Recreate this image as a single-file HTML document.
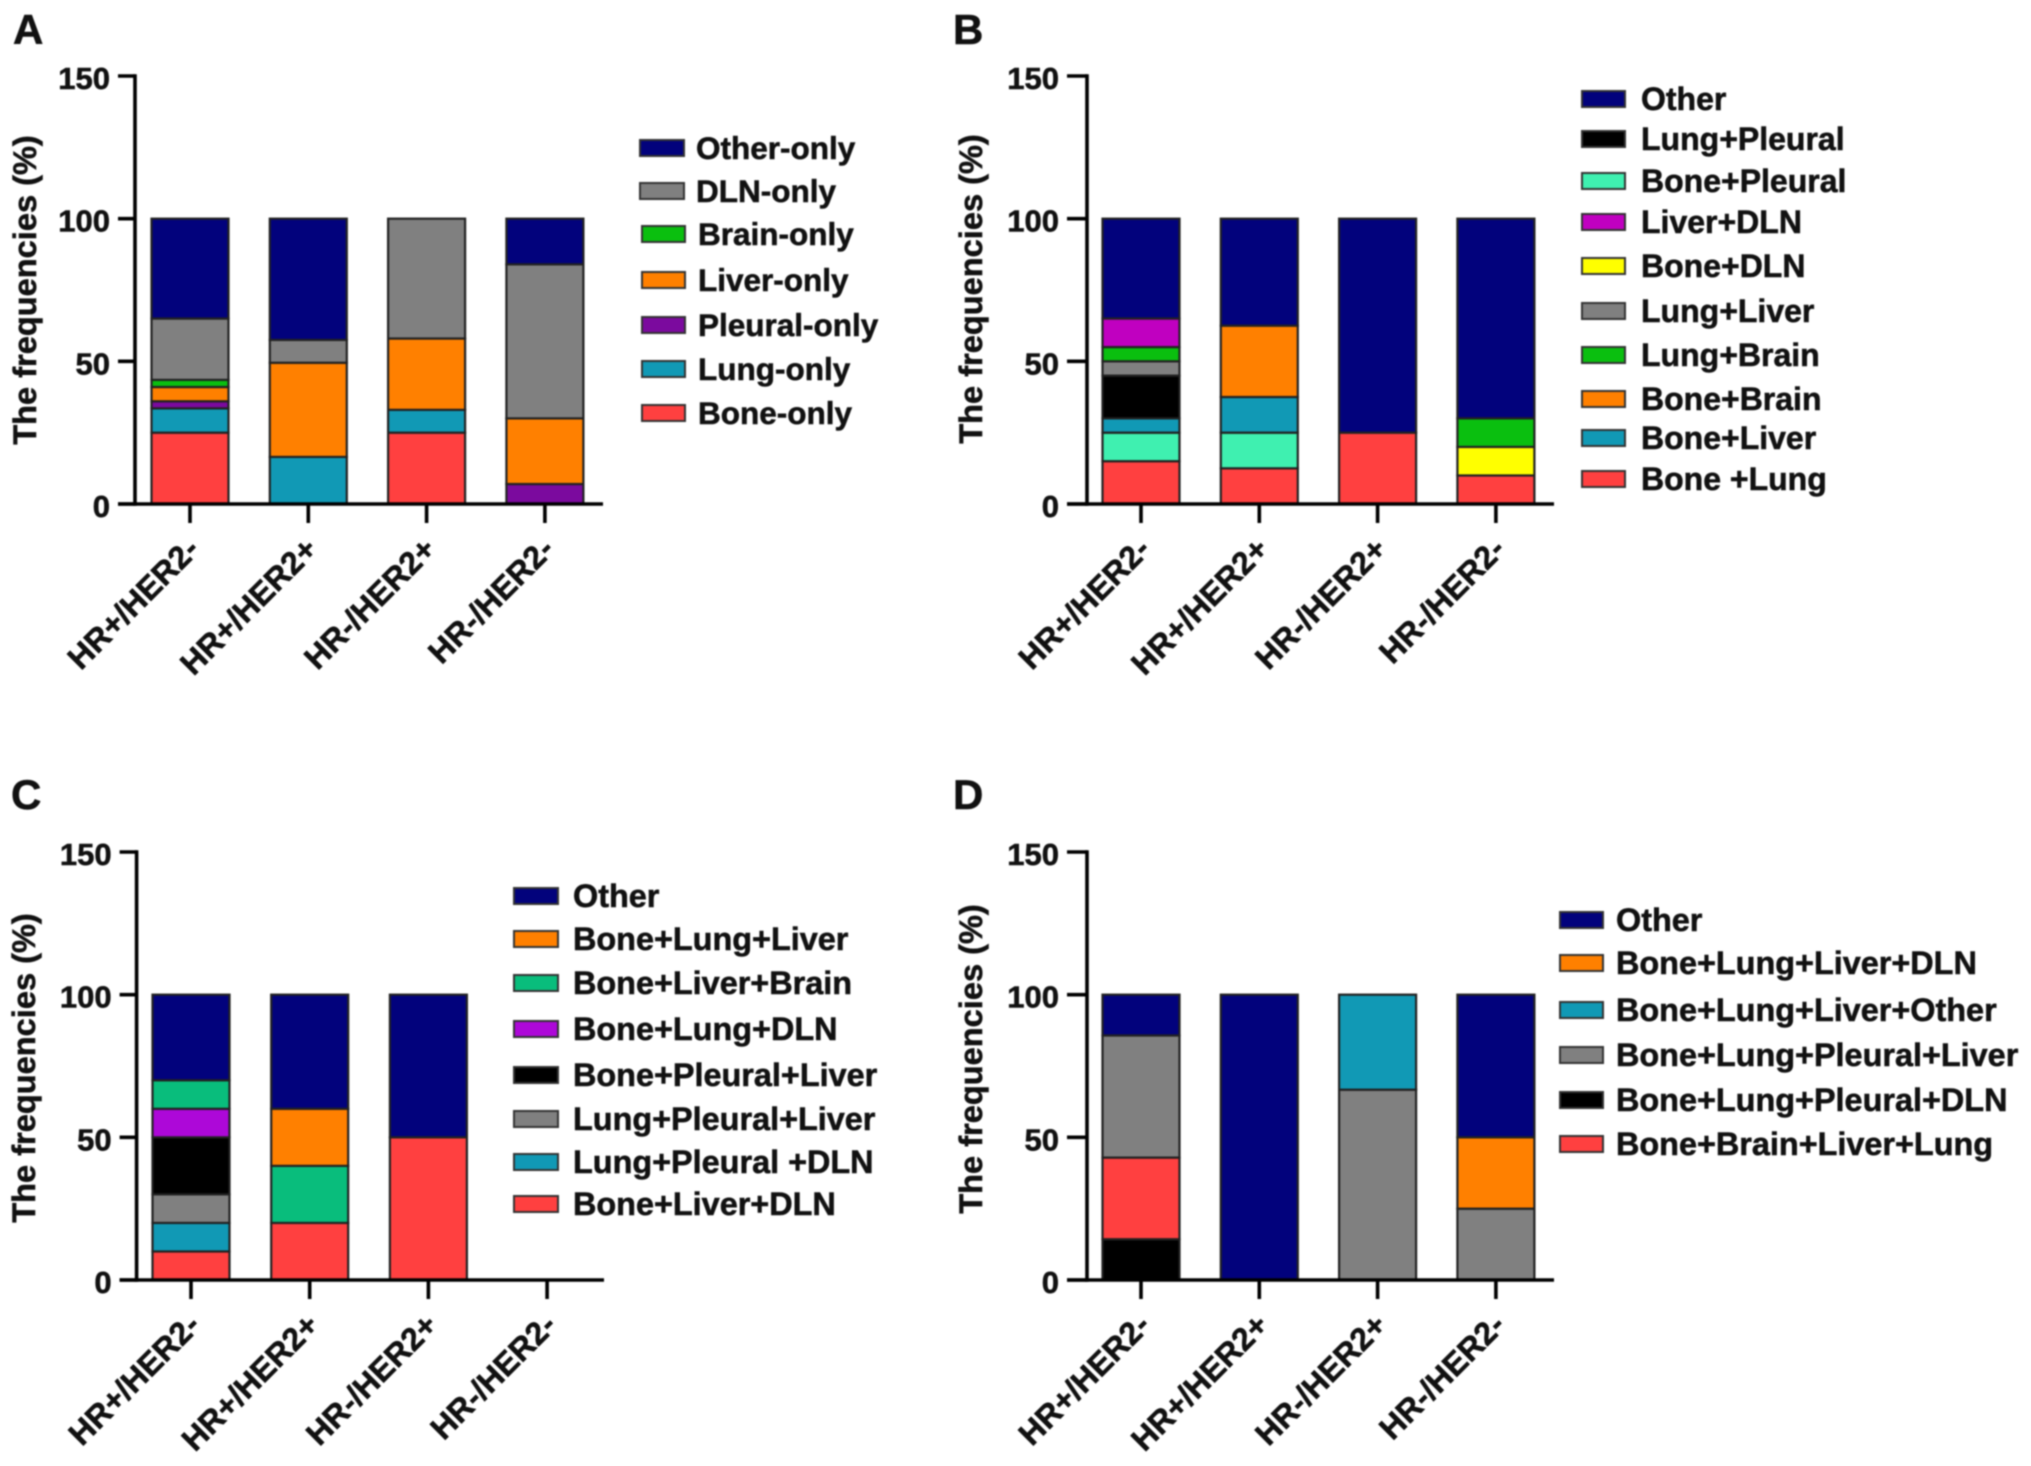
<!DOCTYPE html>
<html lang="en">
<head>
<meta charset="utf-8">
<title>Metastasis pattern frequencies by subtype</title>
<style>
  html, body { margin: 0; padding: 0; background: #fff; }
  svg { display: block; font-family: "Liberation Sans", sans-serif; font-weight: bold; fill: #111; }
  #figure { filter: blur(0.7px); }
  text { stroke: #111; stroke-width: 0.55px; }
  .legend-text { font-size: 32px; }
  #legend-a .legend-text { font-size: 31.5px; }
  #legend-c .legend-text, #legend-d .legend-text { font-size: 32.4px; }
  #legend-a, #legend-b, #legend-c, #legend-d { transform: translateY(-1px); }
  .swatch { stroke: #333; stroke-width: 2; }
  .letter { font-size: 42px; }
  .ytitle { font-size: 32.6px; text-anchor: middle; }
</style>
</head>
<body>
<svg id="figure" xmlns="http://www.w3.org/2000/svg" width="2031" height="1466" viewBox="0 0 2031 1466">
  <rect width="2031" height="1466" fill="#fff"/>

  <g id="panel-a">
    <text class="letter" x="13" y="44">A</text>
    <text class="ytitle" transform="translate(36 290) rotate(-90)">The frequencies (%)</text>
    <g id="legend-a">
      <g><rect class="swatch" x="640" y="141" width="44" height="16" fill="#02027c"/><text class="legend-text" x="696" y="160">Other-only</text></g>
      <g><rect class="swatch" x="640" y="184" width="44" height="16" fill="#808080"/><text class="legend-text" x="696" y="203">DLN-only</text></g>
      <g><rect class="swatch" x="642" y="227" width="43" height="16" fill="#0abf0f"/><text class="legend-text" x="698" y="246">Brain-only</text></g>
      <g><rect class="swatch" x="642" y="273" width="43" height="16" fill="#ff8000"/><text class="legend-text" x="698" y="292">Liver-only</text></g>
      <g><rect class="swatch" x="642" y="318" width="43" height="16" fill="#7b0a9e"/><text class="legend-text" x="698" y="337">Pleural-only</text></g>
      <g><rect class="swatch" x="642" y="362" width="43" height="16" fill="#1199b5"/><text class="legend-text" x="698" y="381">Lung-only</text></g>
      <g><rect class="swatch" x="642" y="406" width="43" height="16" fill="#ff4040"/><text class="legend-text" x="698" y="425">Bone-only</text></g>
    </g>
  </g>

  <g id="panel-b">
    <text class="letter" x="953" y="44">B</text>
    <text class="ytitle" transform="translate(982 289) rotate(-90)">The frequencies (%)</text>
    <g id="legend-b">
      <g><rect class="swatch" x="1582" y="92" width="43" height="16" fill="#02027c"/><text class="legend-text" x="1641" y="111">Other</text></g>
      <g><rect class="swatch" x="1582" y="132" width="43" height="16" fill="#000"/><text class="legend-text" x="1641" y="151">Lung+Pleural</text></g>
      <g><rect class="swatch" x="1582" y="174" width="43" height="16" fill="#3ff0b0"/><text class="legend-text" x="1641" y="193">Bone+Pleural</text></g>
      <g><rect class="swatch" x="1582" y="215" width="43" height="16" fill="#c000c0"/><text class="legend-text" x="1641" y="234">Liver+DLN</text></g>
      <g><rect class="swatch" x="1582" y="259" width="43" height="16" fill="#ffff00"/><text class="legend-text" x="1641" y="278">Bone+DLN</text></g>
      <g><rect class="swatch" x="1582" y="304" width="43" height="16" fill="#808080"/><text class="legend-text" x="1641" y="323">Lung+Liver</text></g>
      <g><rect class="swatch" x="1582" y="348" width="43" height="16" fill="#0abf0f"/><text class="legend-text" x="1641" y="367">Lung+Brain</text></g>
      <g><rect class="swatch" x="1582" y="392" width="43" height="16" fill="#ff8000"/><text class="legend-text" x="1641" y="411">Bone+Brain</text></g>
      <g><rect class="swatch" x="1582" y="431" width="43" height="16" fill="#1199b5"/><text class="legend-text" x="1641" y="450">Bone+Liver</text></g>
      <g><rect class="swatch" x="1582" y="472" width="43" height="16" fill="#ff4040"/><text class="legend-text" x="1641" y="491">Bone +Lung</text></g>
    </g>
  </g>

  <g id="panel-c">
    <text class="letter" x="11" y="809">C</text>
    <text class="ytitle" transform="translate(35 1068) rotate(-90)">The frequencies (%)</text>
    <g id="legend-c">
      <g><rect class="swatch" x="514" y="889" width="44" height="16" fill="#02027c"/><text class="legend-text" x="573" y="908">Other</text></g>
      <g><rect class="swatch" x="514" y="932" width="44" height="16" fill="#ff8000"/><text class="legend-text" x="573" y="951">Bone+Lung+Liver</text></g>
      <g><rect class="swatch" x="514" y="976" width="44" height="16" fill="#09bd7c"/><text class="legend-text" x="573" y="995">Bone+Liver+Brain</text></g>
      <g><rect class="swatch" x="514" y="1022" width="44" height="16" fill="#ad08d8"/><text class="legend-text" x="573" y="1041">Bone+Lung+DLN</text></g>
      <g><rect class="swatch" x="514" y="1068" width="44" height="16" fill="#000"/><text class="legend-text" x="573" y="1087">Bone+Pleural+Liver</text></g>
      <g><rect class="swatch" x="514" y="1112" width="44" height="16" fill="#808080"/><text class="legend-text" x="573" y="1131">Lung+Pleural+Liver</text></g>
      <g><rect class="swatch" x="514" y="1155" width="44" height="16" fill="#1199b5"/><text class="legend-text" x="573" y="1174">Lung+Pleural +DLN</text></g>
      <g><rect class="swatch" x="514" y="1197" width="44" height="16" fill="#ff4040"/><text class="legend-text" x="573" y="1216">Bone+Liver+DLN</text></g>
    </g>
  </g>

  <g id="panel-d">
    <text class="letter" x="953" y="809">D</text>
    <text class="ytitle" transform="translate(982 1059) rotate(-90)">The frequencies (%)</text>
    <g id="legend-d">
      <g><rect class="swatch" x="1560" y="913" width="43" height="16" fill="#02027c"/><text class="legend-text" x="1616" y="932">Other</text></g>
      <g><rect class="swatch" x="1560" y="956" width="43" height="16" fill="#ff8000"/><text class="legend-text" x="1616" y="975">Bone+Lung+Liver+DLN</text></g>
      <g><rect class="swatch" x="1560" y="1003" width="43" height="16" fill="#1199b5"/><text class="legend-text" x="1616" y="1022">Bone+Lung+Liver+Other</text></g>
      <g><rect class="swatch" x="1560" y="1048" width="43" height="16" fill="#808080"/><text class="legend-text" x="1616" y="1067">Bone+Lung+Pleural+Liver</text></g>
      <g><rect class="swatch" x="1560" y="1093" width="43" height="16" fill="#000"/><text class="legend-text" x="1616" y="1112">Bone+Lung+Pleural+DLN</text></g>
      <g><rect class="swatch" x="1560" y="1137" width="43" height="16" fill="#ff4040"/><text class="legend-text" x="1616" y="1156">Bone+Brain+Liver+Lung</text></g>
    </g>
  </g>
</svg>

<script>
// ---- shared axis data ----
const categories = ["HR+/HER2-", "HR+/HER2+", "HR-/HER2+", "HR-/HER2-"];
const yTicks = [0, 50, 100, 150];

// ---- panel A values (stack order, bottom to top) ----
const aBoneOnly    = [25, 0, 25, 0];
const aLungOnly    = [8.5, 16.5, 8, 0];
const aPleuralOnly = [2.5, 0, 0, 7];
const aLiverOnly   = [5, 33, 25, 23];
const aBrainOnly   = [2.5, 0, 0, 0];
const aDlnOnly     = [21.5, 8, 42, 54];
const aOtherOnly   = [35, 42.5, 0, 16];

// ---- panel B values ----
const bBoneLung    = [15, 12.5, 25, 10];
const bBonePleural = [10, 12.5, 0, 0];
const bBoneLiver   = [5, 12.5, 0, 0];
const bLungPleural = [15, 0, 0, 0];
const bBoneBrain   = [0, 25, 0, 0];
const bLungLiver   = [5, 0, 0, 0];
const bBoneDln     = [0, 0, 0, 10];
const bLungBrain   = [5, 0, 0, 10];
const bLiverDln    = [10, 0, 0, 0];
const bOther       = [35, 37.5, 75, 70];

// ---- panel C values ----
const cBoneLiverDln     = [10, 20, 50, 0];
const cLungPleuralDln   = [10, 0, 0, 0];
const cLungPleuralLiver = [10, 0, 0, 0];
const cBonePleuralLiver = [20, 0, 0, 0];
const cBoneLungDln      = [10, 0, 0, 0];
const cBoneLiverBrain   = [10, 20, 0, 0];
const cBoneLungLiver    = [0, 20, 0, 0];
const cOther            = [30, 40, 50, 0];

// ---- panel D values ----
const dBoneLungPleuralDln   = [14.3, 0, 0, 0];
const dBoneBrainLiverLung   = [28.6, 0, 0, 0];
const dBoneLungPleuralLiver = [42.8, 0, 66.7, 25];
const dBoneLungLiverOther   = [0, 0, 33.3, 0];
const dBoneLungLiverDln     = [0, 0, 0, 25];
const dOther                = [14.3, 100, 0, 50];

// ---- series groupings ----
const seriesA = [
  { key: "bone-only", values: aBoneOnly, color: "#ff4040" },
  { key: "lung-only", values: aLungOnly, color: "#1199b5" },
  { key: "pleural-only", values: aPleuralOnly, color: "#7b0a9e" },
  { key: "liver-only", values: aLiverOnly, color: "#ff8000" },
  { key: "brain-only", values: aBrainOnly, color: "#0abf0f" },
  { key: "dln-only", values: aDlnOnly, color: "#808080" },
  { key: "other-only", values: aOtherOnly, color: "#02027c" }
];
const seriesB = [
  { key: "bone-lung", values: bBoneLung, color: "#ff4040" },
  { key: "bone-pleural", values: bBonePleural, color: "#3ff0b0" },
  { key: "bone-liver", values: bBoneLiver, color: "#1199b5" },
  { key: "lung-pleural", values: bLungPleural, color: "#000000" },
  { key: "bone-brain", values: bBoneBrain, color: "#ff8000" },
  { key: "lung-liver", values: bLungLiver, color: "#808080" },
  { key: "bone-dln", values: bBoneDln, color: "#ffff00" },
  { key: "lung-brain", values: bLungBrain, color: "#0abf0f" },
  { key: "liver-dln", values: bLiverDln, color: "#c000c0" },
  { key: "other", values: bOther, color: "#02027c" }
];
const seriesC = [
  { key: "bone-liver-dln", values: cBoneLiverDln, color: "#ff4040" },
  { key: "lung-pleural-dln", values: cLungPleuralDln, color: "#1199b5" },
  { key: "lung-pleural-liver", values: cLungPleuralLiver, color: "#808080" },
  { key: "bone-pleural-liver", values: cBonePleuralLiver, color: "#000000" },
  { key: "bone-lung-dln", values: cBoneLungDln, color: "#ad08d8" },
  { key: "bone-liver-brain", values: cBoneLiverBrain, color: "#09bd7c" },
  { key: "bone-lung-liver", values: cBoneLungLiver, color: "#ff8000" },
  { key: "other", values: cOther, color: "#02027c" }
];
const seriesD = [
  { key: "bone-lung-pleural-dln", values: dBoneLungPleuralDln, color: "#000000" },
  { key: "bone-brain-liver-lung", values: dBoneBrainLiverLung, color: "#ff4040" },
  { key: "bone-lung-pleural-liver", values: dBoneLungPleuralLiver, color: "#808080" },
  { key: "bone-lung-liver-other", values: dBoneLungLiverOther, color: "#1199b5" },
  { key: "bone-lung-liver-dln", values: dBoneLungLiverDln, color: "#ff8000" },
  { key: "other", values: dOther, color: "#02027c" }
];

const SVGNS = "http://www.w3.org/2000/svg";

function make(tag, attrs, parent) {
  const el = document.createElementNS(SVGNS, tag);
  for (const k in attrs) el.setAttribute(k, attrs[k]);
  parent.appendChild(el);
  return el;
}

function drawPanel(id, series, g) {
  const root = document.getElementById("panel-" + id);
  const yScale = function (v) { return g.y0 - v * (g.y0 - g.y150) / 150; };
  const xScale = function (i) { return g.x0 + i * g.step; };

  const barsGroup = make("g", {}, root);
  
  

  categories.forEach(function (cat, i) {
    let cum = 0;
    series.forEach(function (s) {
      const v = s.values[i];
      if (!v) return;
      const top = yScale(cum + v);
      const bottom = yScale(cum);
      const r = make("rect", {
        x: xScale(i) - g.barW / 2, y: top,
        width: g.barW, height: bottom - top,
        fill: s.color, stroke: "#222", "stroke-width": 2.2
      }, barsGroup);
      
      
      cum += v;
    });
  });

  const axes = make("g", { stroke: "#000", "stroke-width": 3.6, fill: "none" }, root);
  
  

  const yLine = make("line", { x1: g.axisX, x2: g.axisX, y1: yScale(150) - 1.8, y2: yScale(0) + 1.8 }, axes);
  
  

  const xLine = make("line", { x1: g.axisX - g.tickL, x2: g.axisEnd, y1: yScale(0), y2: yScale(0) }, axes);
  
  

  yTicks.forEach(function (t) {
    const y = yScale(t);
    const tick = make("line", { x1: g.axisX - g.tickL, x2: g.axisX, y1: y, y2: y }, axes);
    
    
    const lab = make("text", { x: g.axisX - g.tickL - 8, y: y + 13, "text-anchor": "end", "font-size": 31 }, root);
    
    
    lab.textContent = t;
  });

  categories.forEach(function (cat, i) {
    const x = xScale(i);
    const tick = make("line", { x1: x, x2: x, y1: yScale(0), y2: yScale(0) + 19 }, axes);
    
    
    const px = x + 11, py = yScale(0) + 47;
    const lab = make("text", { transform: "translate(" + px + " " + py + ") rotate(-45)", "text-anchor": "end", "font-size": 32 }, root);
    
    
    lab.textContent = cat;
  });
}

drawPanel("a", seriesA, { x0: 190, step: 118.3, barW: 77, axisX: 135, axisEnd: 603, tickL: 17, y0: 504, y150: 76 });
drawPanel("b", seriesB, { x0: 1141, step: 118.3, barW: 77, axisX: 1087, axisEnd: 1554, tickL: 20, y0: 504, y150: 76 });
drawPanel("c", seriesC, { x0: 191, step: 118.7, barW: 77, axisX: 136.6, axisEnd: 604, tickL: 17, y0: 1280, y150: 852 });
drawPanel("d", seriesD, { x0: 1141, step: 118.3, barW: 77, axisX: 1087, axisEnd: 1554, tickL: 20, y0: 1280, y150: 852 });
</script>
</body>
</html>
